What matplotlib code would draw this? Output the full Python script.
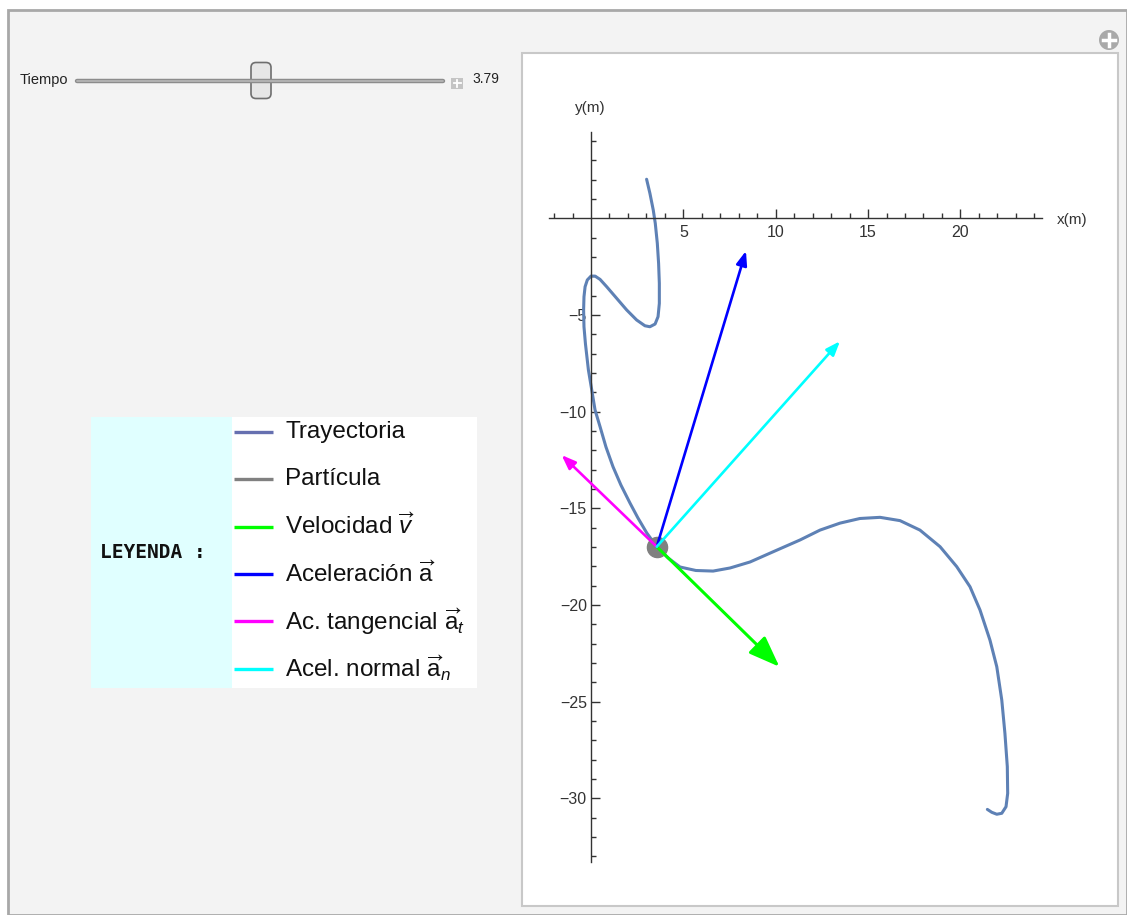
import numpy as np
import matplotlib
matplotlib.use("Agg")
import matplotlib.pyplot as plt
from matplotlib.patches import Rectangle, FancyBboxPatch, Circle
from matplotlib.ticker import FixedLocator

plt.rcParams['font.family'] = ['Liberation Sans', 'DejaVu Sans']
plt.rcParams['mathtext.fontset'] = 'custom'
plt.rcParams['mathtext.rm'] = 'Liberation Sans'
plt.rcParams['mathtext.it'] = 'Liberation Sans:italic'

# trajectory (metres)
traj_x = [3.01, 3.19, 3.37, 3.48, 3.59, 3.66, 3.70, 3.70, 3.63, 3.47, 3.19, 2.92,
          2.47, 1.93, 1.39, 0.85, 0.49, 0.22, 0.0, -0.20, -0.32, -0.38, -0.40,
          -0.38, -0.30, -0.14, 0.04, 0.22, 0.49, 0.81, 1.19, 1.62, 2.11, 2.54,
          3.02, 3.56, 4.17, 4.82, 5.68, 6.61, 7.53, 8.61, 9.96, 11.32, 12.40,
          13.48, 14.56, 15.65, 16.73, 17.81, 18.90, 19.80, 20.52, 21.06, 21.60,
          21.97, 22.24, 22.41, 22.54, 22.56, 22.47, 22.24, 21.97, 21.70, 21.46]
traj_y = [2.02, 1.29, 0.43, -0.26, -1.29, -2.33, -3.36, -4.40, -5.09, -5.47, -5.61,
          -5.56, -5.26, -4.74, -4.14, -3.54, -3.16, -2.99, -2.99, -3.19, -3.54,
          -4.06, -4.74, -5.61, -6.50, -7.85, -8.88, -9.92, -10.78, -11.83, -12.85,
          -13.80, -14.73, -15.50, -16.28, -16.99, -17.57, -18.04, -18.22, -18.25,
          -18.09, -17.78, -17.21, -16.64, -16.13, -15.77, -15.53, -15.47, -15.64,
          -16.13, -16.99, -18.02, -19.06, -20.26, -21.82, -23.20, -24.92, -26.64,
          -28.37, -29.75, -30.44, -30.78, -30.83, -30.73, -30.58]

particle = (3.56, -16.99)
t_value = "3.79"

# vectors drawn from the particle (scaled, metres on the plot)
vec_names = ["v", "a", "at", "an"]
vec_dx = [6.64, 4.83, -5.15, 9.92]
vec_dy = [-6.21, 15.30, 4.74, 10.63]
vec_colors = ["#00ff00", "#0000ff", "#ff00ff", "#00ffff"]

x_major = [5, 10, 15, 20]
y_major = [-5, -10, -15, -20, -25, -30]

legend_labels = ["Trayectoria", "Partícula", r"Velocidad $\overrightarrow{v}$",
                 r"Aceleración $\overrightarrow{\mathrm{a}}$",
                 r"Ac. tangencial $\overrightarrow{\mathrm{a}}_{t}$",
                 r"Acel. normal $\overrightarrow{\mathrm{a}}_{n}$"]
legend_colors = ["#6670b0", "#808080", "#00ff00", "#0000ff", "#ff00ff", "#00ffff"]

W, H = 1127, 915
fig = plt.figure(figsize=(W / 100, H / 100), dpi=100, facecolor="white")

# background / widgets layer in pixel coordinates
bg = fig.add_axes([0, 0, 1, 1], zorder=0)
bg.set_xlim(0, W)
bg.set_ylim(H, 0)
bg.axis("off")

bg.add_patch(Rectangle((8, 10), W - 8, H - 10, facecolor="#f3f3f3",
                       edgecolor="#a8a8a8", lw=2))
bg.add_patch(Rectangle((522, 53), 596, 853, facecolor="white",
                       edgecolor="#c8c8c8", lw=1.5))

# slider
bg.text(20, 80, "Tiempo", fontsize=10.5, va="center", ha="left", color="#222222")
bg.plot([77, 443], [81, 81], color="#8c8c8c", lw=3.2, solid_capstyle="round")
bg.plot([77, 443], [81, 81], color="#b8b8b8", lw=1.2, solid_capstyle="round")
bg.add_patch(FancyBboxPatch((251, 62.5), 20, 36, boxstyle="round,pad=0,rounding_size=5",
                            facecolor="#e6e6e6", edgecolor="#6e6e6e", lw=1.2))
bg.add_patch(Rectangle((451, 77.5), 12, 11, facecolor="#c4c4c4", edgecolor="none"))
bg.plot([453.5, 460.5], [83, 83], color="white", lw=1.3)
bg.plot([457, 457], [79.5, 86.5], color="white", lw=1.3)
bg.text(472, 79, t_value, fontsize=10, va="center", ha="left", color="#222222")

# round plus button
bg.add_patch(Circle((1109, 40), 10, facecolor="#a9a9a9", edgecolor="none"))
bg.plot([1103, 1115], [40, 40], color="white", lw=2.5)
bg.plot([1109, 1109], [34, 46], color="white", lw=2.5)

# legend block
bg.add_patch(Rectangle((91, 417), 141, 271, facecolor="#e0ffff", edgecolor="none"))
bg.add_patch(Rectangle((232, 417), 245, 271, facecolor="white", edgecolor="none"))
bg.text(153, 552, "LEYENDA :", family="DejaVu Sans Mono", fontweight="bold",
        fontsize=14, ha="center", va="center", color="#111111")
for i, (lab, col) in enumerate(zip(legend_labels, legend_colors)):
    yy = 432 + i * 47.3
    bg.plot([234, 273], [yy, yy], color=col, lw=2.4, solid_capstyle="butt")
    bg.text(285, yy, lab, fontsize=17.5, ha="left", va="center", color="#111111")

# main plot axes: place so that data -> pixel mapping matches
px0, sx = 591.0, 18.47
py0, sy = 218.3, 19.33
xlim = (-3.5, 27.0)
ylim = (-35.0, 6.0)
left = px0 + xlim[0] * sx
right = px0 + xlim[1] * sx
top = py0 - ylim[1] * sy
bottom = py0 - ylim[0] * sy
ax = fig.add_axes([left / W, 1 - bottom / H, (right - left) / W, (bottom - top) / H],
                  zorder=1)
ax.set_xlim(*xlim)
ax.set_ylim(*ylim)
ax.patch.set_alpha(0)

for s in ["top", "right"]:
    ax.spines[s].set_visible(False)
ax.spines["left"].set_position(("data", 0))
ax.spines["bottom"].set_position(("data", 0))
ax.spines["bottom"].set_bounds(-2.26, 24.4)
ax.spines["left"].set_bounds(-33.28, 4.46)
for s in ["left", "bottom"]:
    ax.spines[s].set_color("#333333")
    ax.spines[s].set_linewidth(1.0)

ax.xaxis.set_major_locator(FixedLocator(x_major))
ax.yaxis.set_major_locator(FixedLocator(y_major))
ax.xaxis.set_minor_locator(FixedLocator([v for v in range(-2, 25) if v != 0 and v % 5 != 0]))
ax.yaxis.set_minor_locator(FixedLocator([v for v in range(-33, 5) if v != 0 and v % 5 != 0]))
ax.tick_params(which="major", direction="in", length=6.5, width=1.0, color="#333333",
               labelsize=11.5, labelcolor="#333333")
ax.tick_params(which="minor", direction="in", length=3.8, width=1.0, color="#333333")
ax.tick_params(axis="x", which="major", pad=5)
ax.tick_params(axis="y", which="major", pad=3)

fig.text(590 / W, 1 - 108 / H, "y(m)", fontsize=11, ha="center", va="center",
         color="#333333")
fig.text(1057 / W, 1 - 220 / H, "x(m)", fontsize=11, ha="left", va="center",
         color="#333333")

ax.plot(traj_x, traj_y, color="#5e81b5", lw=2.2, zorder=2,
        solid_capstyle="round", solid_joinstyle="round")
ax.plot(*particle, "o", ms=14.5, color="#808080", zorder=3)

for name, dx, dy, col in zip(vec_names, vec_dx, vec_dy, vec_colors):
    tip = (particle[0] + dx, particle[1] + dy)
    if name == "v":
        style = "-|>,head_length=0.95,head_width=0.36"
        lw = 2.2
    else:
        style = "-|>,head_length=0.42,head_width=0.16"
        lw = 1.9
    ax.annotate("", xy=tip, xytext=particle,
                arrowprops=dict(arrowstyle=style, color=col, lw=lw,
                                shrinkA=0, shrinkB=0, mutation_scale=20),
                zorder=4)

fig.savefig("out.png", dpi=100, facecolor=fig.get_facecolor())
